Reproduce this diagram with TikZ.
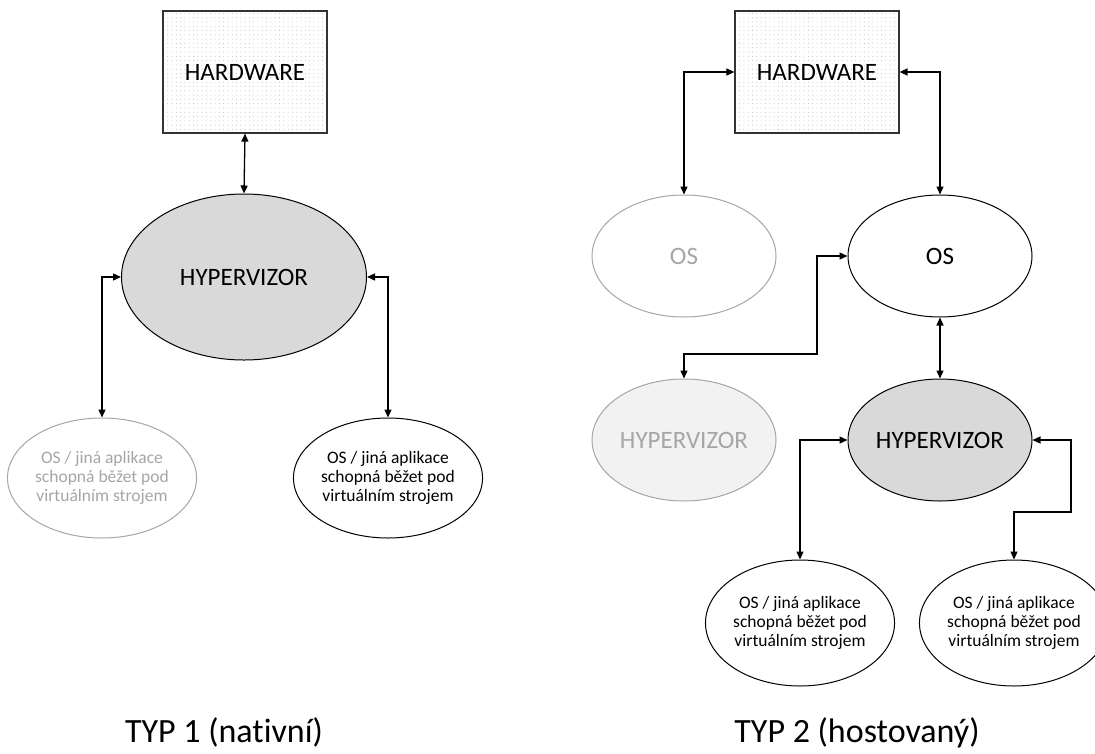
\documentclass[tikz,border=0pt]{standalone}
\usepackage{fontspec}
\setmainfont{Carlito}[Ligatures=NoCommon]
\usetikzlibrary{shapes.geometric,arrows.meta,patterns.meta}
\definecolor{lgrey}{HTML}{A6A6A6}
\definecolor{hypfill}{HTML}{D9D9D9}
\definecolor{hypfilllight}{HTML}{F2F2F2}
\tikzset{
  hwbox/.style={draw=black!80, line width=1.2pt, minimum width=164pt, minimum height=122pt, inner sep=0pt,
    pattern={Dots[distance=4.3pt, radius=0.45pt]}, pattern color=black!30,
    font=\fontsize{25}{30}\selectfont},
  ell/.style={ellipse, draw, line width=1pt, inner sep=0pt, minimum width=184pt, minimum height=122pt,
    font=\fontsize{25}{30}\selectfont},
  ghost/.style={draw=lgrey, text=lgrey},
  appell/.style={ell, minimum height=124pt, align=center, font=\fontsize{17.5}{19}\selectfont},
  conn/.style={line width=1.3pt, {Triangle[length=8pt,width=7pt]}-{Triangle[length=8pt,width=7pt]}},
  caption/.style={anchor=base, inner sep=0pt, font=\fontsize{34}{40}\selectfont}
}
\begin{document}
\begin{tikzpicture}[x=1pt,y=-1pt]
\useasboundingbox (0,0) rectangle (1095,753);
\fill[white] (0,0) rectangle (1095,753);
\clip (0,0) rectangle (1095,753);

% ---------- TYP 1 ----------
\node[hwbox] (hw1) at (245,72) {HARDWARE};
\node[ell, fill=hypfill, minimum width=245pt, minimum height=166pt] (hyp1) at (244,277) {HYPERVIZOR};
\node[appell, ghost, minimum width=182pt, minimum height=120pt] (app1a) at (102,478) {OS / jiná aplikace\\schopná běžet pod\\virtuálním strojem};
\node[appell, minimum width=184pt, minimum height=120pt] (app1b) at (388,478) {OS / jiná aplikace\\schopná běžet pod\\virtuálním strojem};

\draw[conn] (hw1.south) -- (hyp1.north);
\draw[conn] (hyp1.west) -| (app1a.north);
\draw[conn] (hyp1.east) -| (app1b.north);

\node[caption] (cap1) at (224,742) {TYP 1 (nativní)};

% ---------- TYP 2 ----------
\node[hwbox] (hw2) at (817,72) {HARDWARE};
\node[ell, ghost] (os2a) at (684,256) {OS};
\node[ell] (os2b) at (940,256) {OS};
\node[ell, ghost, fill=hypfilllight] (hyp2a) at (684,440) {HYPERVIZOR};
\node[ell, fill=hypfill] (hyp2b) at (940,440) {HYPERVIZOR};
\node[appell, minimum height=126pt] (app2a) at (800,623) {OS / jiná aplikace\\schopná běžet pod\\virtuálním strojem};
\node[appell, minimum height=126pt] (app2b) at (1014,623) {OS / jiná aplikace\\schopná běžet pod\\virtuálním strojem};

\coordinate (k1) at (817,256);
\coordinate (k2) at (817,354);
\coordinate (k3) at (1071,440);
\coordinate (k4) at (1071,512);

\draw[conn] (hw2.west) -| (os2a.north);
\draw[conn] (hw2.east) -| (os2b.north);
\draw[conn] (os2b.west) -- (k1) -- (k2) -| (hyp2a.north);
\draw[conn] (os2b.south) -- (hyp2b.north);
\draw[conn] (hyp2b.west) -| (app2a.north);
\draw[conn] (hyp2b.east) -- (k3) -- (k4) -| (app2b.north);

\node[caption] (cap2) at (857,742) {TYP 2 (hostovaný)};
\end{tikzpicture}
\end{document}
